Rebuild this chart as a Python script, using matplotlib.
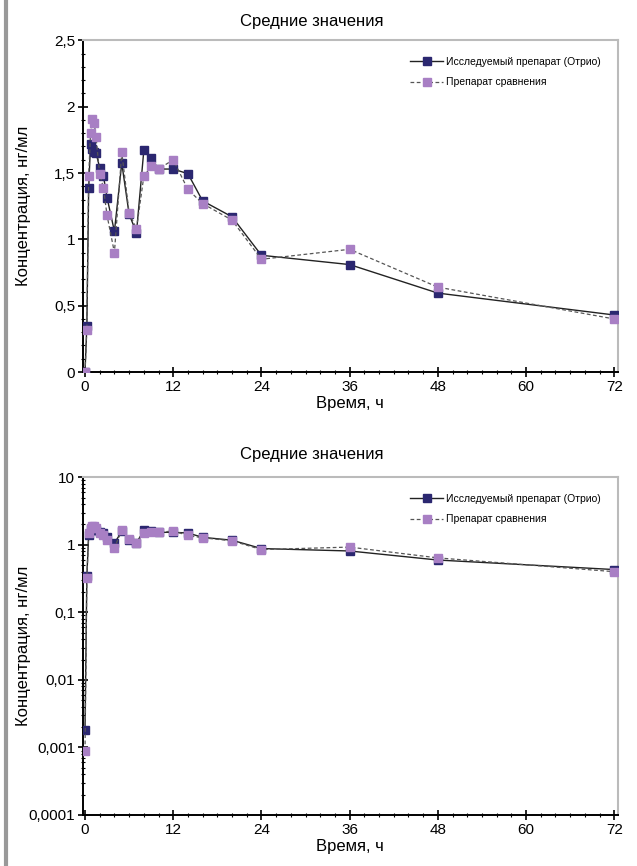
import matplotlib
matplotlib.use('Agg')
import matplotlib.pyplot as plt
from matplotlib.ticker import FuncFormatter, MultipleLocator, LogLocator
from matplotlib.lines import Line2D

plt.rcParams['font.family'] = ['Liberation Sans', 'DejaVu Sans']

# Mean concentration data (ng/ml) vs time (h)
time_h = [0, 0.25, 0.5, 0.75, 1, 1.25, 1.5, 2, 2.5, 3, 4, 5, 6, 7, 8, 9, 10,
          12, 14, 16, 20, 24, 36, 48, 72]
test_conc = [0.0018, 0.35, 1.39, 1.72, 1.68, 1.66, 1.65, 1.54, 1.48, 1.315, 1.06,
             1.575, 1.19, 1.05, 1.67, 1.61, 1.53, 1.53, 1.495, 1.29, 1.17, 0.88,
             0.81, 0.595, 0.43]
ref_conc = [0.0009, 0.32, 1.475, 1.80, 1.91, 1.88, 1.77, 1.49, 1.39, 1.18, 0.90,
            1.655, 1.20, 1.08, 1.475, 1.55, 1.53, 1.60, 1.376, 1.27, 1.145, 0.85,
            0.925, 0.64, 0.40]

test_label = 'Исследуемый препарат (Отрио)'
ref_label = 'Препарат сравнения'
title = 'Средние значения'
xlabel = 'Время, ч'
ylabel = 'Концентрация, нг/мл'
x_ticks = [0, 12, 24, 36, 48, 60, 72]

test_color = '#2b2770'
ref_color = '#a87fc4'


def comma(v, pos):
    if v == 0:
        return '0'
    s = ('%g' % v) if v >= 0.001 else ('%.4f' % v)
    return s.replace('.', ',')


def style_axes(ax):
    ax.set_xlim(-0.3, 72.5)
    ax.set_xticks(x_ticks)
    ax.xaxis.set_minor_locator(MultipleLocator(2))
    ax.tick_params(which='major', direction='inout', length=7, width=1.2,
                   labelsize=11, pad=2)
    ax.tick_params(which='minor', direction='inout', length=3, width=0.8)
    for side in ['top', 'right']:
        ax.spines[side].set_color('#bbbbbb')
        ax.spines[side].set_linewidth(1.5)
    for side in ['left', 'bottom']:
        ax.spines[side].set_linewidth(1.4)
    ax.set_xlabel(xlabel, fontsize=12, labelpad=2)
    ax.set_ylabel(ylabel, fontsize=12)
    ax.yaxis.set_label_coords(-0.097, 0.5)
    ax.yaxis.set_major_formatter(FuncFormatter(comma))
    ax.plot(time_h, test_conc, '-', color='#222222', lw=1.0, marker='s',
            markersize=5.5, markerfacecolor=test_color, markeredgecolor=test_color,
            label=test_label, zorder=3)
    ax.plot(time_h, ref_conc, '--', color='#555555', lw=0.9, dashes=(3, 2),
            marker='s', markersize=5.5, markerfacecolor=ref_color,
            markeredgecolor=ref_color, label=ref_label, zorder=4)
    leg = ax.legend(loc='upper right', frameon=False, fontsize=7.5,
                    handlelength=3.2, handletextpad=0.3, labelspacing=1.0,
                    borderaxespad=1.2)
    return leg


fig = plt.figure(figsize=(6.37, 8.66), dpi=100)

# linear scale
ax1 = fig.add_axes([0.130, 0.5704, 0.840, 0.383])
style_axes(ax1)
ax1.set_ylim(0, 2.5)
ax1.yaxis.set_major_locator(MultipleLocator(0.5))
ax1.yaxis.set_minor_locator(MultipleLocator(0.1))
fig.text(0.49, 0.975, title, ha='center', va='center', fontsize=12)

# log scale
ax2 = fig.add_axes([0.130, 0.0589, 0.840, 0.390])
style_axes(ax2)
ax2.set_yscale('log')
ax2.set_ylim(0.0001, 10)
ax2.yaxis.set_major_locator(LogLocator(base=10, numticks=10))
ax2.yaxis.set_minor_locator(LogLocator(base=10, subs=range(2, 10), numticks=20))
ax2.yaxis.set_major_formatter(FuncFormatter(comma))
fig.text(0.49, 0.4746, title, ha='center', va='center', fontsize=12)

# page border on the left
fig.add_artist(Line2D([0.01, 0.01], [0, 1], color='#999999', lw=3,
                      transform=fig.transFigure))

fig.savefig('out.png', dpi=100, facecolor='white')
